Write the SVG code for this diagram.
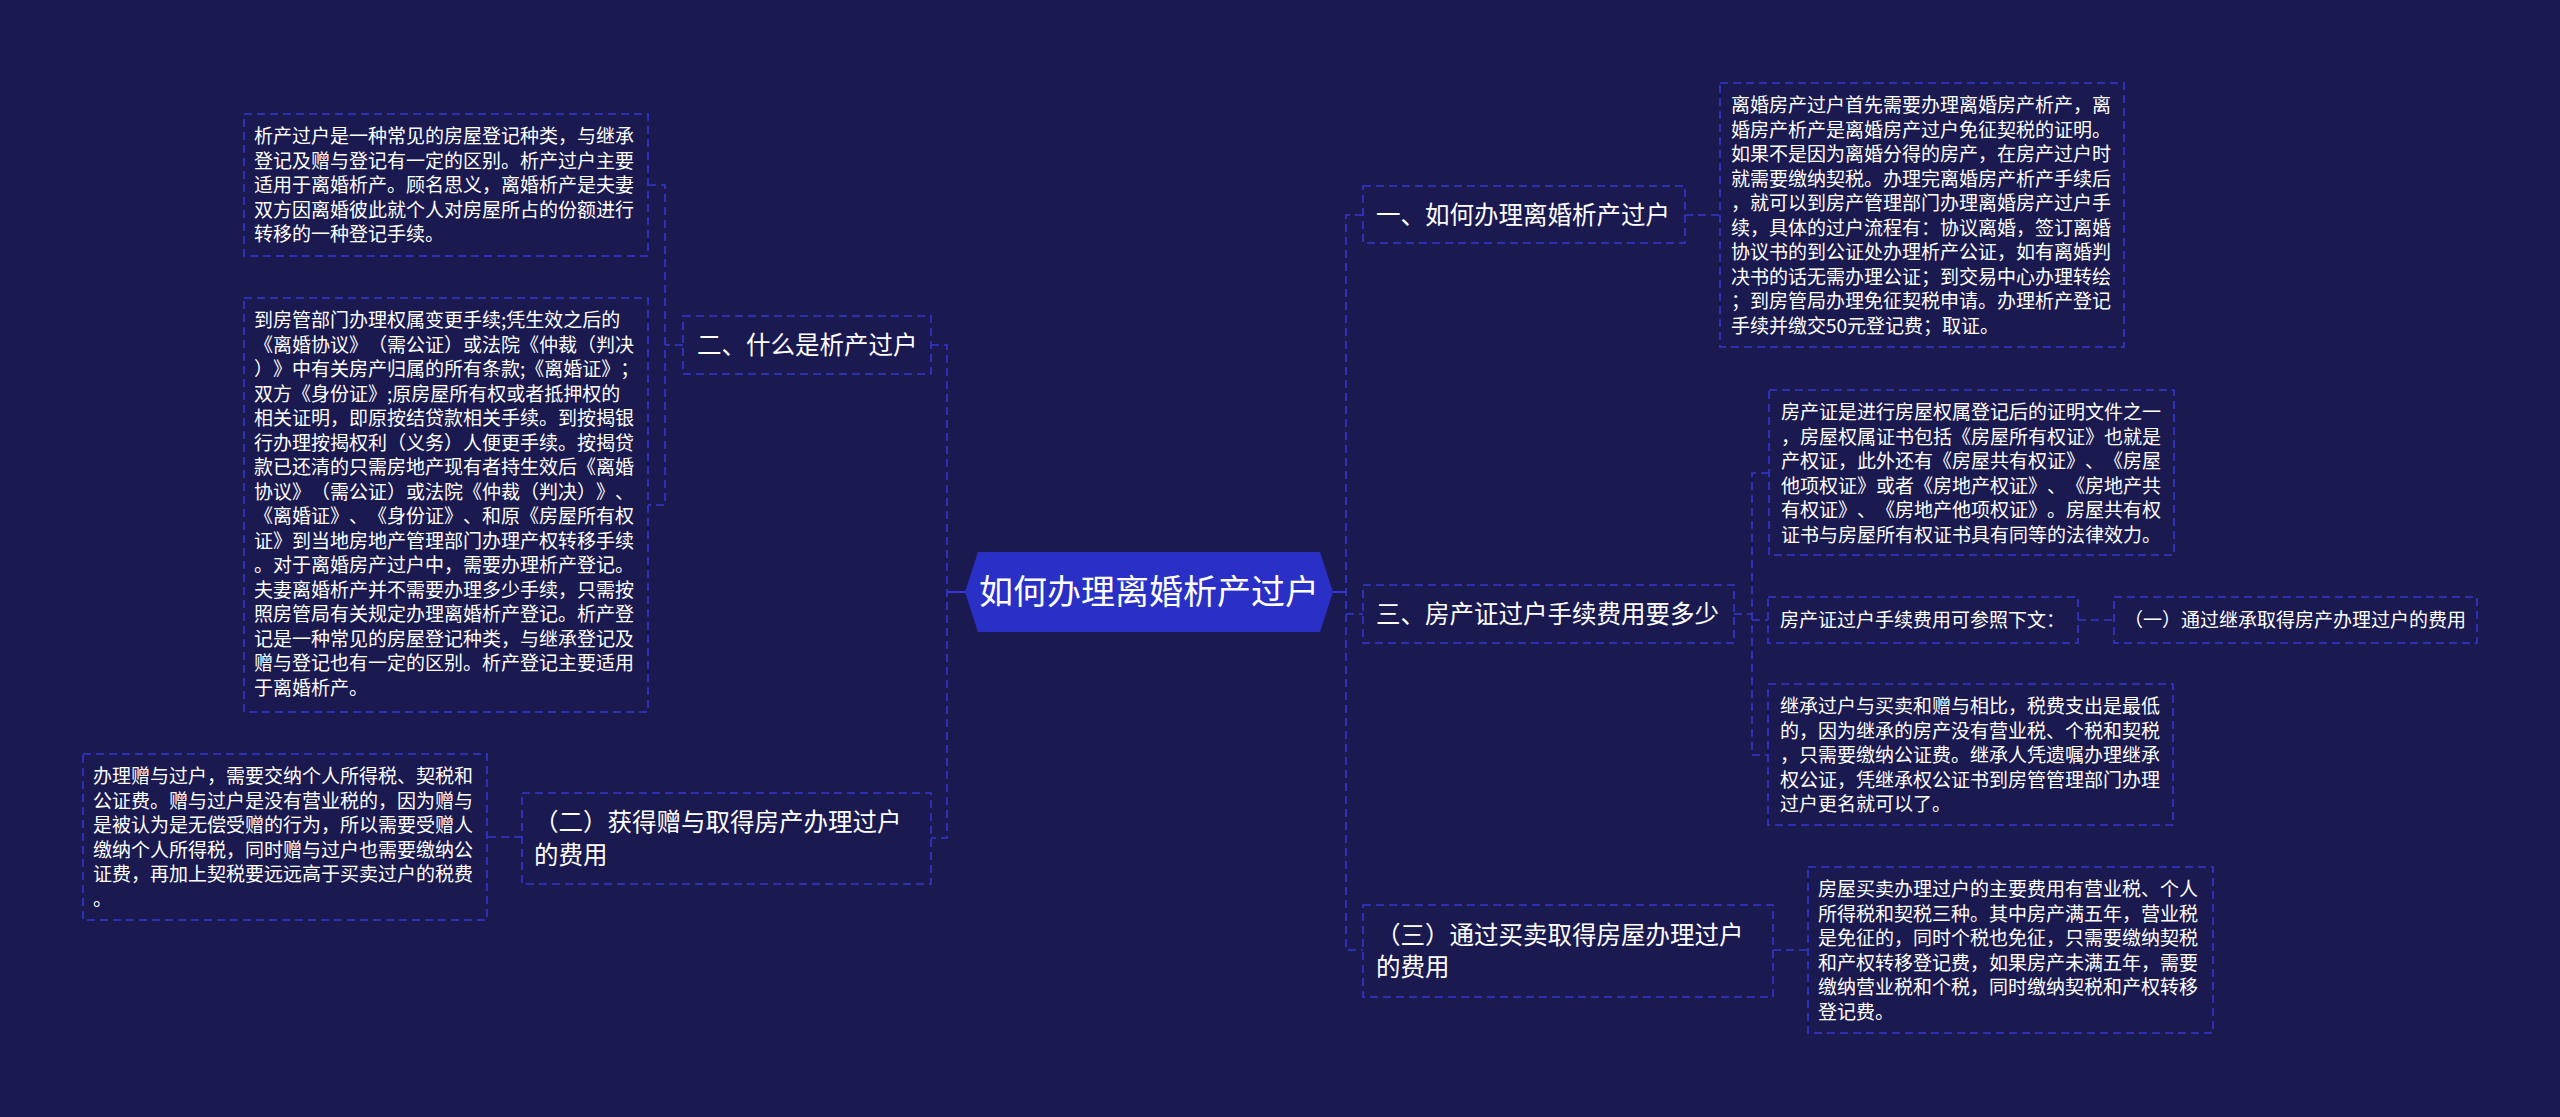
<svg xmlns="http://www.w3.org/2000/svg" width="2560" height="1117" viewBox="0 0 2560 1117">
<style>
.bg{fill:#1a1950}
.box{fill:none;stroke:#3438d2;stroke-width:1.6;stroke-dasharray:8 5}
.ln{fill:none;stroke:#3438d2;stroke-width:1.6;stroke-dasharray:8 5}
.sl{fill:none;stroke:#3438d2;stroke-width:2}
text{font-family:"Noto Sans CJK SC","Noto Sans",sans-serif;fill:#ffffff;text-spacing-trim:space-all;font-kerning:none}
.t{font-size:24.5px}
.d{font-size:19px}
.c{font-size:34px;text-anchor:middle}
</style>
<rect class="bg" x="0" y="0" width="2560" height="1117"/>
<g id="connectors">
<path class="sl" d="M1333,592 H1346"/>
<path class="sl" d="M965,592 H947"/>
<path class="ln" d="M1363,215 H1346 V950 H1363"/>
<path class="ln" d="M1346,614 H1363"/>
<path class="ln" d="M1685,215 H1720"/>
<path class="ln" d="M1734,614 H1752"/>
<path class="ln" d="M1769,473 H1752 V755 H1768"/>
<path class="ln" d="M1752,620 H1768"/>
<path class="ln" d="M2078,620 H2114"/>
<path class="ln" d="M1773,950 H1808"/>
<path class="ln" d="M931,345 H947 V838 H931"/>
<path class="ln" d="M683,345 H665"/>
<path class="ln" d="M648,185 H665 V505 H648"/>
<path class="ln" d="M522,837 H487"/>
</g>
<g id="center">
<polygon points="965,592 978,552 1320,552 1333,592 1320,632 978,632" fill="#2a2fc6"/>
<text class="c" x="1149" y="604">如何办理离婚析产过户</text>
</g>
<g id="n1">
<rect class="box" x="1363" y="186" width="322" height="57"/>
<text class="t" x="1376" y="224">一、如何办理离婚析产过户</text>
</g>
<g id="n1d">
<rect class="box" x="1720" y="83" width="404" height="264"/>
<text class="d" x="1731" y="112">
<tspan x="1731" dy="0">离婚房产过户首先需要办理离婚房产析产，离</tspan>
<tspan x="1731" dy="24.5">婚房产析产是离婚房产过户免征契税的证明。</tspan>
<tspan x="1731" dy="24.5">如果不是因为离婚分得的房产，在房产过户时</tspan>
<tspan x="1731" dy="24.5">就需要缴纳契税。办理完离婚房产析产手续后</tspan>
<tspan x="1731" dy="24.5">，就可以到房产管理部门办理离婚房产过户手</tspan>
<tspan x="1731" dy="24.5">续，具体的过户流程有：协议离婚，签订离婚</tspan>
<tspan x="1731" dy="24.5">协议书的到公证处办理析产公证，如有离婚判</tspan>
<tspan x="1731" dy="24.5">决书的话无需办理公证；到交易中心办理转绘</tspan>
<tspan x="1731" dy="24.5">；到房管局办理免征契税申请。办理析产登记</tspan>
<tspan x="1731" dy="24.5">手续并缴交50元登记费；取证。</tspan>
</text>
</g>
<g id="n3">
<rect class="box" x="1363" y="585" width="371" height="58"/>
<text class="t" x="1376" y="623">三、房产证过户手续费用要多少</text>
</g>
<g id="n3a">
<rect class="box" x="1769" y="390" width="405" height="165"/>
<text class="d" x="1781" y="419">
<tspan x="1781" dy="0">房产证是进行房屋权属登记后的证明文件之一</tspan>
<tspan x="1781" dy="24.5">，房屋权属证书包括《房屋所有权证》也就是</tspan>
<tspan x="1781" dy="24.5">产权证，此外还有《房屋共有权证》、《房屋</tspan>
<tspan x="1781" dy="24.5">他项权证》或者《房地产权证》、《房地产共</tspan>
<tspan x="1781" dy="24.5">有权证》、《房地产他项权证》。房屋共有权</tspan>
<tspan x="1781" dy="24.5">证书与房屋所有权证书具有同等的法律效力。</tspan>
</text>
</g>
<g id="n3b">
<rect class="box" x="1768" y="597" width="310" height="46"/>
<text class="d" x="1780" y="627">房产证过户手续费用可参照下文：</text>
</g>
<g id="n3b1">
<rect class="box" x="2114" y="597" width="363" height="46"/>
<text class="d" x="2124" y="627">（一）通过继承取得房产办理过户的费用</text>
</g>
<g id="n3c">
<rect class="box" x="1768" y="684" width="405" height="141"/>
<text class="d" x="1780" y="713">
<tspan x="1780" dy="0">继承过户与买卖和赠与相比，税费支出是最低</tspan>
<tspan x="1780" dy="24.5">的，因为继承的房产没有营业税、个税和契税</tspan>
<tspan x="1780" dy="24.5">，只需要缴纳公证费。继承人凭遗嘱办理继承</tspan>
<tspan x="1780" dy="24.5">权公证，凭继承权公证书到房管管理部门办理</tspan>
<tspan x="1780" dy="24.5">过户更名就可以了。</tspan>
</text>
</g>
<g id="n4">
<rect class="box" x="1363" y="905" width="410" height="92"/>
<text class="t" x="1376" y="944">
<tspan x="1376" dy="0">（三）通过买卖取得房屋办理过户</tspan>
<tspan x="1376" dy="32">的费用</tspan>
</text>
</g>
<g id="n4d">
<rect class="box" x="1808" y="867" width="405" height="166"/>
<text class="d" x="1818" y="896">
<tspan x="1818" dy="0">房屋买卖办理过户的主要费用有营业税、个人</tspan>
<tspan x="1818" dy="24.5">所得税和契税三种。其中房产满五年，营业税</tspan>
<tspan x="1818" dy="24.5">是免征的，同时个税也免征，只需要缴纳契税</tspan>
<tspan x="1818" dy="24.5">和产权转移登记费，如果房产未满五年，需要</tspan>
<tspan x="1818" dy="24.5">缴纳营业税和个税，同时缴纳契税和产权转移</tspan>
<tspan x="1818" dy="24.5">登记费。</tspan>
</text>
</g>
<g id="n2">
<rect class="box" x="683" y="316" width="248" height="58"/>
<text class="t" x="697" y="354">二、什么是析产过户</text>
</g>
<g id="n2a">
<rect class="box" x="244" y="114" width="404" height="142"/>
<text class="d" x="254" y="143">
<tspan x="254" dy="0">析产过户是一种常见的房屋登记种类，与继承</tspan>
<tspan x="254" dy="24.5">登记及赠与登记有一定的区别。析产过户主要</tspan>
<tspan x="254" dy="24.5">适用于离婚析产。顾名思义，离婚析产是夫妻</tspan>
<tspan x="254" dy="24.5">双方因离婚彼此就个人对房屋所占的份额进行</tspan>
<tspan x="254" dy="24.5">转移的一种登记手续。</tspan>
</text>
</g>
<g id="n2b">
<rect class="box" x="244" y="298" width="404" height="414"/>
<text class="d" x="254" y="327">
<tspan x="254" dy="0">到房管部门办理权属变更手续;凭生效之后的</tspan>
<tspan x="254" dy="24.5">《离婚协议》（需公证）或法院《仲裁（判决</tspan>
<tspan x="254" dy="24.5">）》中有关房产归属的所有条款;《离婚证》；</tspan>
<tspan x="254" dy="24.5">双方《身份证》;原房屋所有权或者抵押权的</tspan>
<tspan x="254" dy="24.5">相关证明，即原按结贷款相关手续。到按揭银</tspan>
<tspan x="254" dy="24.5">行办理按揭权利（义务）人便更手续。按揭贷</tspan>
<tspan x="254" dy="24.5">款已还清的只需房地产现有者持生效后《离婚</tspan>
<tspan x="254" dy="24.5">协议》（需公证）或法院《仲裁（判决）》、</tspan>
<tspan x="254" dy="24.5">《离婚证》、《身份证》、和原《房屋所有权</tspan>
<tspan x="254" dy="24.5">证》到当地房地产管理部门办理产权转移手续</tspan>
<tspan x="254" dy="24.5">。对于离婚房产过户中，需要办理析产登记。</tspan>
<tspan x="254" dy="24.5">夫妻离婚析产并不需要办理多少手续，只需按</tspan>
<tspan x="254" dy="24.5">照房管局有关规定办理离婚析产登记。析产登</tspan>
<tspan x="254" dy="24.5">记是一种常见的房屋登记种类，与继承登记及</tspan>
<tspan x="254" dy="24.5">赠与登记也有一定的区别。析产登记主要适用</tspan>
<tspan x="254" dy="24.5">于离婚析产。</tspan>
</text>
</g>
<g id="n5">
<rect class="box" x="522" y="793" width="409" height="91"/>
<text class="t" x="534" y="831">
<tspan x="534" dy="0">（二）获得赠与取得房产办理过户</tspan>
<tspan x="534" dy="33">的费用</tspan>
</text>
</g>
<g id="n5d">
<rect class="box" x="83" y="754" width="404" height="166"/>
<text class="d" x="93" y="783">
<tspan x="93" dy="0">办理赠与过户，需要交纳个人所得税、契税和</tspan>
<tspan x="93" dy="24.5">公证费。赠与过户是没有营业税的，因为赠与</tspan>
<tspan x="93" dy="24.5">是被认为是无偿受赠的行为，所以需要受赠人</tspan>
<tspan x="93" dy="24.5">缴纳个人所得税，同时赠与过户也需要缴纳公</tspan>
<tspan x="93" dy="24.5">证费，再加上契税要远远高于买卖过户的税费</tspan>
<tspan x="93" dy="24.5">。</tspan>
</text>
</g>
</svg>
